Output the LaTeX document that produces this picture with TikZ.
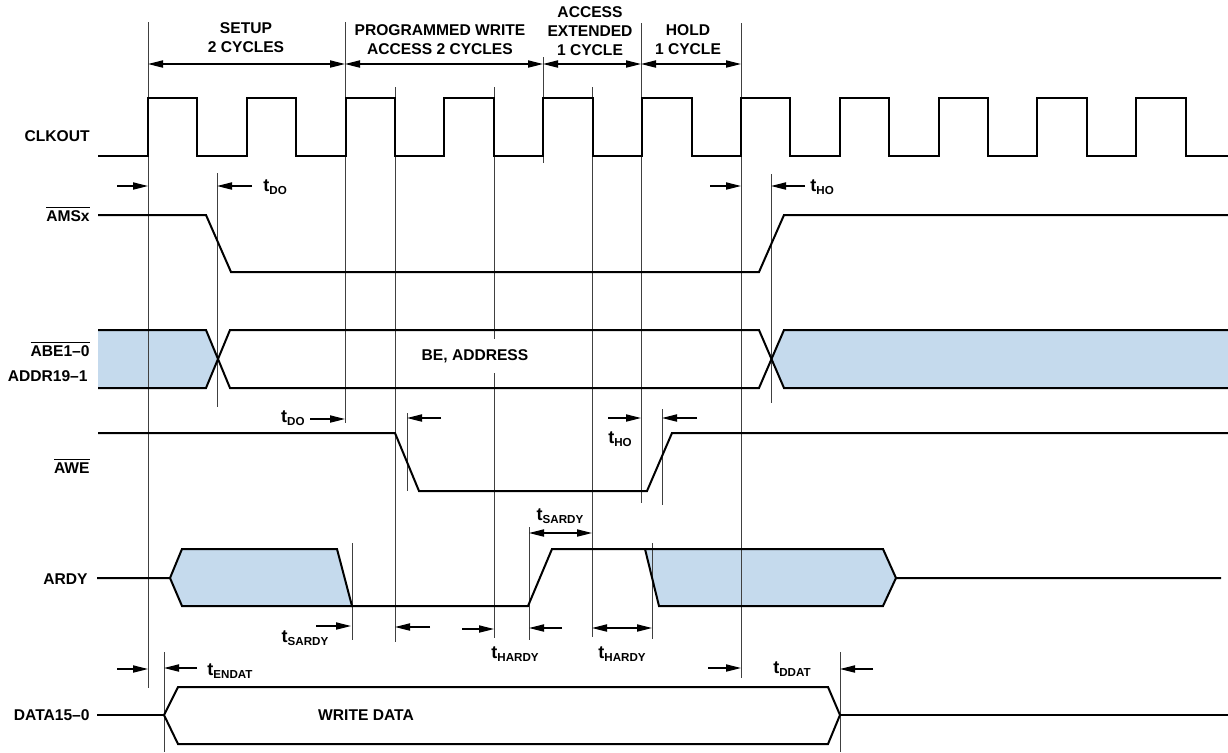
\documentclass[tikz,border=0pt]{standalone}
\usepackage{fontspec}
\setsansfont{Liberation Sans}
\usetikzlibrary{arrows.meta}
\definecolor{busblue}{RGB}{197,218,237}
\newcommand{\sig}[1]{$\overline{\mbox{#1}}$}
\newcommand{\tim}[1]{{\fontsize{9}{10}\selectfont t}\raisebox{-0.35ex}{\fontsize{5.8}{6}\selectfont #1}}
\tikzset{
  lbl/.style={font=\sffamily\bfseries\fontsize{7.8}{9.5}\selectfont, inner sep=0pt},
  hdr/.style={lbl, align=center},
  wave/.style={line width=1pt},
  guide/.style={line width=0.5pt, black!75},
  tip/.style={-{Triangle[length=7.5pt,width=3.6pt]}, line width=0.6pt},
  dbl/.style={{Triangle[length=7.5pt,width=3.6pt]}-{Triangle[length=7.5pt,width=3.6pt]}, line width=0.6pt}
}
\begin{document}
\begin{tikzpicture}[x=0.5pt, y=-0.5pt]
		\useasboundingbox (0,0) rectangle (1228,752);

		% Bus fills
		\fill[busblue] (98,330) -- (206,330) -- (217,359) -- (206,388) -- (98,388) -- cycle;
		\fill[busblue] (771,359) -- (784,330) -- (1228,330) -- (1228,388) -- (784,388) -- cycle;
		\fill[busblue] (170,578) -- (182,549) -- (337,549) -- (352,606) -- (182,606) -- cycle;
		\fill[busblue] (645,549) -- (883,549) -- (896,578) -- (883,606) -- (659,606) -- cycle;

		% Guide lines
		\foreach \x/\ya/\yb in {148/22/688, 345/22/423, 395/87/642, 494/87/638, 543/57/163,
		    592/87/637, 641/23/503, 741/23/678, 217/173/407, 771/174/403, 407/413/491,
		    662/409/505, 352/543/640, 529/527/640, 652/543/639, 164/652/752, 840/652/752}
		  \draw[guide] (\x,\ya) -- (\x,\yb);

		% Cycle headers
		\node[hdr] (setup) at (246,37.5) {SETUP\\2 CYCLES};
		\node[hdr] (prog) at (440,40) {PROGRAMMED WRITE\\ACCESS 2 CYCLES};
		\node[hdr] (ext) at (590,31.5) {ACCESS\\EXTENDED\\1 CYCLE};
		\node[hdr] (hold) at (688,39.5) {HOLD\\1 CYCLE};
		\draw[dbl] (148,64) -- (345,64);
		\draw[dbl] (345,64) -- (543,64);
		\draw[dbl] (543,64) -- (641,64);
		\draw[dbl] (641,64) -- (741,64);

		% Signal names
		\node[lbl, anchor=east] (clk) at (90,136) {CLKOUT};
		\node[lbl, anchor=east] (ams) at (90,214) {\sig{AMSx}};
		\node[lbl, anchor=east] (abe) at (90,349) {\sig{ABE1–0}};
		\node[lbl, anchor=east] (addr) at (88,376) {ADDR19–1};
		\node[lbl, anchor=east] (awe) at (90,466) {\sig{AWE}};
		\node[lbl, anchor=east] (ardy) at (88,579) {ARDY};
		\node[lbl, anchor=east] (data) at (90,715) {DATA15–0};

		% Waveforms
		\draw[wave] (98,156) \foreach \k in {0,...,10} {
		    -- ({148+98.83*\k},156) -- ++(0,-57.7) -- ++(49.4,0) -- ++(0,57.7) } -- (1228,156);
		\draw[wave] (98,215) -- (206,215) -- (231,272) -- (759,272) -- (784,215) -- (1228,215);
		\draw[wave] (98,330) -- (206,330) -- (230,388) -- (759,388) -- (784,330) -- (1228,330);
		\draw[wave] (98,388) -- (206,388) -- (230,330) -- (759,330) -- (784,388) -- (1228,388);
		\draw[wave] (98,433) -- (395,433) -- (419,491) -- (647,491) -- (672,433) -- (1228,433);
		\draw[wave] (97,578) -- (170,578) -- (182,549) -- (337,549) -- (352,606) -- (528,606)
		    -- (552,549) -- (883,549) -- (896,578) -- (1221,578);
		\draw[wave] (170,578) -- (182,606) -- (352,606);
		\draw[wave] (645,549) -- (659,606) -- (883,606) -- (896,578);
		\draw[line width=1.4pt] (97,715) -- (164,715);
		\draw[wave] (164,715) -- (178,687) -- (828,687) -- (840,715) -- (828,744) -- (178,744) -- cycle;
		\draw[line width=1.4pt] (840,715) -- (1228,715);
		\node[lbl, fill=white, inner xsep=4pt, inner ysep=5pt] (addrtxt) at (475,356) {BE, ADDRESS};
		\node[lbl] (datatxt) at (366,715) {WRITE DATA};

		% Timing marks
		\draw[tip] (117,186) -- (148,186);
		\draw[tip] (252,186) -- (217,186);
		\node[lbl, anchor=west] (tdoa) at (263,187) {\tim{DO}};
		\draw[tip] (710,186) -- (741,186);
		\draw[tip] (805,186) -- (771,186);
		\node[lbl, anchor=west] (thoa) at (810,187) {\tim{HO}};
		\node[lbl, anchor=east] (tdob) at (305,418) {\tim{DO}};
		\draw[tip] (310,419) -- (345,419);
		\draw[tip] (441,418) -- (407,418);
		\draw[tip] (608,418) -- (641,418);
		\node[lbl] (thob) at (620,439) {\tim{HO}};
		\draw[tip] (697,418) -- (662,418);
		\node[lbl] (tsardya) at (560,516) {\tim{SARDY}};
		\draw[dbl] (529,533) -- (592,533);
		\draw[tip] (316,626) -- (351,626);
		\node[lbl] (tsardyb) at (305,638) {\tim{SARDY}};
		\draw[tip] (430,627) -- (395,627);
		\draw[tip] (462,629) -- (494,629);
		\node[lbl] (thardya) at (515,654) {\tim{HARDY}};
		\draw[tip] (562,628) -- (529,628);
		\draw[dbl] (592,628) -- (652,628);
		\node[lbl] (thardyb) at (622,654) {\tim{HARDY}};
		\draw[tip] (117,669) -- (148,669);
		\draw[tip] (197,668) -- (164,668);
		\node[lbl, anchor=west] (tendat) at (207,671) {\tim{ENDAT}};
		\draw[tip] (708,668) -- (741,668);
		\node[lbl] (tddat) at (792,669) {\tim{DDAT}};
		\draw[tip] (873,669) -- (840,669);
	\end{tikzpicture}
\end{document}
